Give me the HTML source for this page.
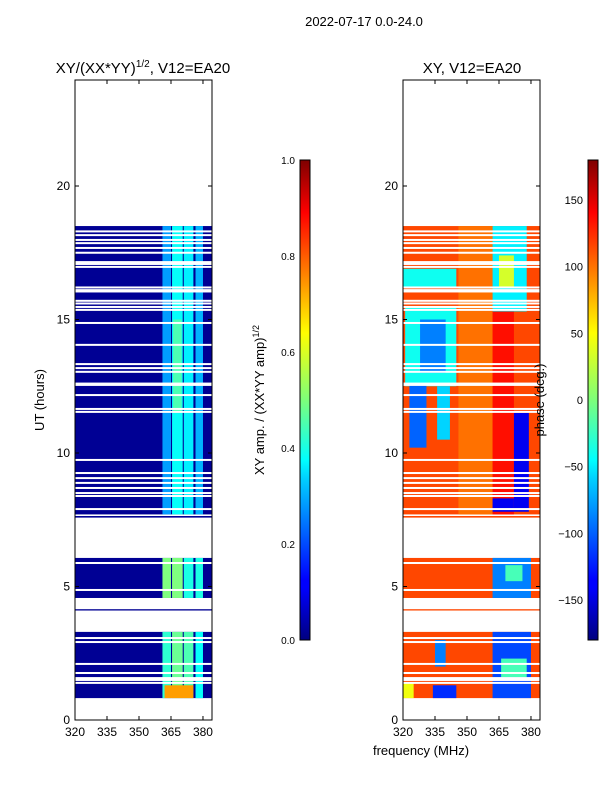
<!DOCTYPE html>
<html><head><meta charset="utf-8">
<style>
body{margin:0;background:#fff;}
svg{display:block;font-family:"Liberation Sans",sans-serif;}
</style></head>
<body>
<svg id="fig" width="600" height="800" viewBox="0 0 600 800" xmlns="http://www.w3.org/2000/svg">
<defs>
<linearGradient id="jet" x1="0" y1="1" x2="0" y2="0">
<stop offset="0" stop-color="#00007f"/><stop offset="0.11" stop-color="#0000ff"/>
<stop offset="0.125" stop-color="#0000ff"/><stop offset="0.34" stop-color="#00d4ff"/>
<stop offset="0.375" stop-color="#0ff"/><stop offset="0.5" stop-color="#7dff7a"/>
<stop offset="0.64" stop-color="#ff0"/><stop offset="0.89" stop-color="#f00"/>
<stop offset="1" stop-color="#7f0000"/>
</linearGradient>
<clipPath id="clipL"><rect x="75" y="80" width="137" height="640"/></clipPath>
<clipPath id="clipR"><rect x="403" y="80" width="137" height="640"/></clipPath>
</defs>
<text x="364" y="26" font-size="13" text-anchor="middle">2022-07-17 0.0-24.0</text>
<text x="143" y="73" font-size="15" text-anchor="middle">XY/(XX*YY)<tspan font-size="10" dy="-6">1/2</tspan><tspan dy="6">, V12=EA20</tspan></text>
<text x="472" y="73" font-size="15" text-anchor="middle">XY, V12=EA20</text>
<g id="left" clip-path="url(#clipL)"></g>
<g id="right" clip-path="url(#clipR)"></g>
<g id="axes"></g>
<rect x="300" y="160" width="10" height="480" fill="url(#jet)" stroke="#000" stroke-width="1"/>
<rect x="588" y="160" width="10" height="480" fill="url(#jet)" stroke="#000" stroke-width="1"/>
<text transform="translate(44,400) rotate(-90)" font-size="13" text-anchor="middle">UT (hours)</text>
<text transform="translate(264,400) rotate(-90)" font-size="13" text-anchor="middle">XY amp. / (XX*YY amp)<tspan font-size="9" dy="-5">1/2</tspan></text>
<text transform="translate(544,400) rotate(-90)" font-size="13" text-anchor="middle">phase (deg.)</text>
<text x="421" y="755" font-size="13" text-anchor="middle">frequency (MHz)</text>
</svg>
<script>
// ---- data ----
const dataBlocks = [[0.82,3.3],[4.57,6.07],[4.1,4.15],[7.58,7.64],[7.7,18.5]];
const gapLines = [18.3,18.16,17.98,17.86,17.68,17.5,17.15,17.08,16.97,16.2,16.1,16.05,15.7,15.6,15.47,15.36,14.87,14.05,13.33,13.18,13.04,12.6,12.55,12.17,11.65,11.54,9.74,9.25,9.06,8.88,8.69,8.5,8.39,7.9,5.88,4.87,3.07,2.92,2.1,1.76,1.57,1.5,1.39];
const ampBase = 0.02;
// [t0,t1,f0,f1,amp]
const ampPatches = [
 [7.7,18.5,361,365,0.28],[7.7,18.5,365.5,370.5,0.38],[7.7,18.5,371,375.5,0.36],[7.7,18.5,376.5,380,0.3],
 [11.5,15,366,370,0.45],[4.57,6.07,361,365,0.5],[4.57,6.07,365.5,370.5,0.5],[4.57,6.07,371,375.5,0.4],[4.57,6.07,376.5,380,0.4],
 [0.82,3.3,361,365,0.42],[0.82,3.3,365.5,370.5,0.48],[0.82,3.3,371,375.5,0.45],[0.82,3.3,376.5,380,0.38],
 [0.82,1.3,362,375.5,0.72]
];
const phaseBase = 110;
// [t0,t1,f0,f1,phase]
const phasePatches = [
 [7.7,18.5,346,362,95],[15.3,18.5,362,378,-50],[16.2,17.4,365,372,30],[7.7,15.3,362,372,130],
 [7.8,11.5,372,379,-140],[7.8,8.3,362,372,-140],[12.5,15.5,321,345,-40],[13,15,328,340,-90],
 [10.2,12.6,323,331,-100],[10.5,12.5,336,342,-60],[16.2,16.9,320,345,-40],
 [4.57,6.07,362,380,-90],[5.2,5.8,368,376,-20],[0.82,3.3,362,380,-110],[1.6,2.3,366,378,-20],
 [0.82,1.3,334,345,-120],[2.0,3.0,335,340,-90],[0.82,1.4,320,325,40]
];
const ampTicks=[0,0.2,0.4,0.6,0.8,1.0];
const phaseTicks=[-150,-100,-50,0,50,100,150];
const timeTicks=[0,5,10,15,20];
const freqTicks=[320,335,350,365,380];

// ---- scales ----
const yT=t=>720-t*26.7;
const xL=f=>75+(f-320)*2.133;
const xR=f=>403+(f-320)*2.133;
function jet(v){v=Math.max(0,Math.min(1,v));
 const c=x=>Math.round(255*Math.max(0,Math.min(1,x)));
 const r=c(1.5-Math.abs(4*v-3)),g=c(1.5-Math.abs(4*v-2)),b=c(1.5-Math.abs(4*v-1));
 return `rgb(${r},${g},${b})`;}
const NS='http://www.w3.org/2000/svg';
function mk(tag,attrs,parent){const e=document.createElementNS(NS,tag);for(const k in attrs)e.setAttribute(k,attrs[k]);parent.appendChild(e);return e;}
const L=document.getElementById('left'),R=document.getElementById('right'),A=document.getElementById('axes');

function drawPanel(g,xs,baseColor,patches,colorFn,nm){
 dataBlocks.forEach(b=>{
  const r=mk('rect',{x:xs(320),y:yT(b[1]),width:xs(384)-xs(320),height:yT(b[0])-yT(b[1]),fill:baseColor},g);
  
  
  patches.forEach(p=>{
   const t0=Math.max(p[0],b[0]),t1=Math.min(p[1],b[1]);
   if(t1<=t0)return;
   const c=mk('rect',{x:xs(p[2]),y:yT(t1),width:xs(p[3])-xs(p[2]),height:yT(t0)-yT(t1),fill:colorFn(p[4])},g);
   
   
  });
 });
 gapLines.forEach(t=>{
  const l=mk('rect',{x:xs(320),y:yT(t)-1,width:xs(384)-xs(320),height:2,fill:'#fff'},g);
  
  
 });
}
drawPanel(L,xL,jet(ampBase),ampPatches,v=>jet(v),'amplitude');
drawPanel(R,xR,jet((phaseBase+180)/360),phasePatches,v=>jet((v+180)/360),'phase');

function axesBox(x0,nm){
 const b=mk('rect',{x:x0,y:80,width:137,height:640,fill:'none',stroke:'#000','stroke-width':1},A);
 
 
 timeTicks.forEach(t=>{
  mk('line',{x1:x0,x2:x0+4,y1:yT(t),y2:yT(t),stroke:'#000'},A);
  mk('line',{x1:x0+137,x2:x0+133,y1:yT(t),y2:yT(t),stroke:'#000'},A);
  const tx=mk('text',{x:x0-5,y:yT(t)+4,'font-size':12,'text-anchor':'end'},A);
  tx.textContent=t;
  
  
 });
 freqTicks.forEach(f=>{
  const x=x0+(f-320)*2.133;
  mk('line',{x1:x,x2:x,y1:720,y2:716,stroke:'#000'},A);
  mk('line',{x1:x,x2:x,y1:80,y2:84,stroke:'#000'},A);
  const tx=mk('text',{x:x,y:736,'font-size':12,'text-anchor':'middle'},A);
  tx.textContent=f;
  
  
 });
}
axesBox(75,'amplitude');axesBox(403,'phase');
ampTicks.forEach(v=>{
 const y=640-v*480;
 mk('line',{x1:300,x2:303,y1:y,y2:y,stroke:'#000'},A);mk('line',{x1:310,x2:307,y1:y,y2:y,stroke:'#000'},A);
 const tx=mk('text',{x:295,y:y+4,'font-size':10,'text-anchor':'end'},A);
 tx.textContent=v.toFixed(1);
 
 
});
phaseTicks.forEach(v=>{
 const y=400-v*480/360;
 mk('line',{x1:588,x2:591,y1:y,y2:y,stroke:'#000'},A);mk('line',{x1:598,x2:595,y1:y,y2:y,stroke:'#000'},A);
 const tx=mk('text',{x:583,y:y+4,'font-size':11,'text-anchor':'end'},A);
 tx.textContent=v<0?'\u2212'+(-v):v;
 
 
});
</script>
</body></html>
